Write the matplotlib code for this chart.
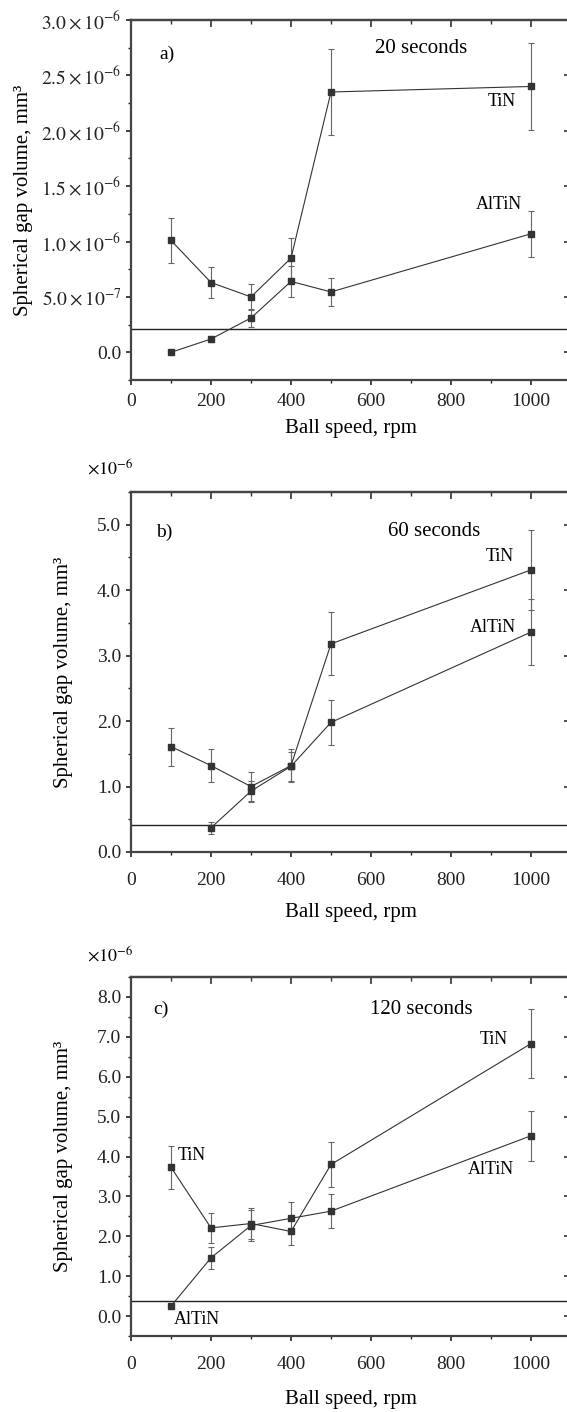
import matplotlib
matplotlib.use('Agg')
import matplotlib.pyplot as plt
from matplotlib.ticker import MultipleLocator, FuncFormatter

plt.rcParams['font.family'] = ['Liberation Serif', 'DejaVu Serif']
plt.rcParams['mathtext.fontset'] = 'stix'

# ball speed, rpm
speed = [100, 200, 300, 400, 500, 1000]

# spherical gap volume, units of 1e-6 mm3
# a) 20 seconds
tin_20 = [1.01, 0.63, 0.50, 0.85, 2.35, 2.40]
tin_20_err = [0.20, 0.14, 0.12, 0.18, 0.39, 0.39]
altin_20 = [0.0, 0.12, 0.31, 0.64, 0.545, 1.07]
altin_20_err = [0.0, 0.03, 0.08, 0.14, 0.13, 0.21]
# b) 60 seconds
speed_b_altin = [200, 300, 400, 500, 1000]
tin_60 = [1.61, 1.32, 1.00, 1.32, 3.18, 4.31]
tin_60_err = [0.29, 0.25, 0.22, 0.25, 0.48, 0.61]
altin_60 = [0.37, 0.93, 1.31, 1.98, 3.36]
altin_60_err = [0.09, 0.16, 0.22, 0.34, 0.51]
# c) 120 seconds
tin_120 = [3.73, 2.21, 2.32, 2.12, 3.80, 6.83]
tin_120_err = [0.54, 0.37, 0.38, 0.34, 0.56, 0.86]
altin_120 = [0.25, 1.46, 2.27, 2.45, 2.63, 4.52]
altin_120_err = [0.0, 0.27, 0.38, 0.40, 0.42, 0.63]

limit_line = [0.21, 0.42, 0.38]

W, H = 567, 1412
fig = plt.figure(figsize=(W / 100, H / 100), dpi=100)
SPINE = '#444444'


def make_ax(top, bottom, left=131, right=571):
    return fig.add_axes([left / W, 1 - bottom / H, (right - left) / W, (bottom - top) / H])


def style(ax, ymaj, ymin, xpad, ylab_x, xlab_pad):
    ax.set_xlim(0, 1100)
    ax.xaxis.set_major_locator(MultipleLocator(200))
    ax.xaxis.set_minor_locator(MultipleLocator(100))
    ax.yaxis.set_major_locator(MultipleLocator(ymaj))
    ax.yaxis.set_minor_locator(MultipleLocator(ymin))
    ax.tick_params(which='both', direction='out', labelsize=14, colors='#222222')
    ax.tick_params(which='major', length=3.5, width=1.2)
    ax.tick_params(which='minor', length=2, width=1.0)
    ax.tick_params(axis='x', pad=xpad)
    for s in ax.spines.values():
        s.set_linewidth(1.6)
        s.set_color(SPINE)
    # inward ticks on top and right
    tx = ax.secondary_xaxis('top')
    tx.xaxis.set_major_locator(MultipleLocator(200))
    tx.xaxis.set_minor_locator(MultipleLocator(100))
    tx.tick_params(which='both', direction='in', labeltop=False, colors='#333333')
    tx.tick_params(which='major', length=5, width=1.2)
    tx.tick_params(which='minor', length=3, width=1.0)
    tx.spines['top'].set_linewidth(1.6)
    tx.spines['top'].set_color(SPINE)
    ry = ax.secondary_yaxis('right')
    ry.yaxis.set_major_locator(MultipleLocator(ymaj))
    ry.yaxis.set_minor_locator(MultipleLocator(ymin))
    ry.tick_params(which='both', direction='in', labelright=False, colors='#333333')
    ry.tick_params(which='major', length=5, width=1.2)
    ry.tick_params(which='minor', length=3, width=1.0)
    ry.spines['right'].set_linewidth(1.6)
    ry.spines['right'].set_color(SPINE)
    ax.set_xlabel('Ball speed, rpm', fontsize=15, labelpad=xlab_pad)
    ax.set_ylabel('Spherical gap volume, mm³', fontsize=15)
    ax.yaxis.set_label_coords(ylab_x, 0.5)


def series(ax, x, y, e):
    ax.errorbar(x, y, yerr=e, fmt='s-', color='#333333', ms=5, lw=0.8,
                ecolor='#666666', elinewidth=0.8, capsize=2.5, capthick=0.8)


def fmt_a(v, pos):
    if abs(v) < 1e-9:
        return '0.0'
    if v < 1:
        return r'$%.1f\times10^{-7}$' % (v * 10)
    return r'$%.1f\times10^{-6}$' % v


# panel a
ax = make_ax(20, 380)
series(ax, speed, tin_20, tin_20_err)
series(ax, speed, altin_20, altin_20_err)
ax.axhline(limit_line[0], color='#222222', lw=1.0)
ax.set_ylim(-0.25, 3.0)
style(ax, 0.5, 0.25, 6, -0.222, 6)
ax.yaxis.set_major_formatter(FuncFormatter(fmt_a))
ax.text(90, 2.69, 'a)', fontsize=14, ha='center', va='center')
ax.text(725, 2.74, '20 seconds', fontsize=15, ha='center', va='center')
ax.text(928, 2.26, 'TiN', fontsize=13, ha='center', va='center')
ax.text(919, 1.33, 'AlTiN', fontsize=13, ha='center', va='center')

# panel b
ax = make_ax(492, 852)
series(ax, speed, tin_60, tin_60_err)
series(ax, speed_b_altin, altin_60, altin_60_err)
ax.axhline(limit_line[1], color='#222222', lw=1.0)
ax.set_ylim(0, 5.5)
style(ax, 1.0, 0.5, 11, -0.132, 10)
ax.yaxis.set_major_formatter(FuncFormatter(lambda v, p: '%.1f' % v))
ax.text(-0.1, 1.066, r'$\times10^{-6}$', transform=ax.transAxes, fontsize=13, ha='left', va='center')
ax.text(83, 4.89, 'b)', fontsize=14, ha='center', va='center')
ax.text(758, 4.89, '60 seconds', fontsize=15, ha='center', va='center')
ax.text(923, 4.51, 'TiN', fontsize=13, ha='center', va='center')
ax.text(904, 3.43, 'AlTiN', fontsize=13, ha='center', va='center')

# panel c
ax = make_ax(977, 1336)
series(ax, speed, tin_120, tin_120_err)
series(ax, speed, altin_120, altin_120_err)
ax.axhline(limit_line[2], color='#222222', lw=1.0)
ax.set_ylim(-0.5, 8.5)
style(ax, 1.0, 0.5, 11, -0.132, 12)
ax.yaxis.set_major_formatter(FuncFormatter(lambda v, p: '%.1f' % v))
ax.text(-0.1, 1.06, r'$\times10^{-6}$', transform=ax.transAxes, fontsize=13, ha='left', va='center')
ax.text(75, 7.68, 'c)', fontsize=14, ha='center', va='center')
ax.text(726, 7.68, '120 seconds', fontsize=15, ha='center', va='center')
ax.text(907, 6.93, 'TiN', fontsize=13, ha='center', va='center')
ax.text(152, 4.03, 'TiN', fontsize=13, ha='center', va='center')
ax.text(900, 3.68, 'AlTiN', fontsize=13, ha='center', va='center')
ax.text(165, -0.08, 'AlTiN', fontsize=13, ha='center', va='center')

fig.savefig('out.png', dpi=100)
